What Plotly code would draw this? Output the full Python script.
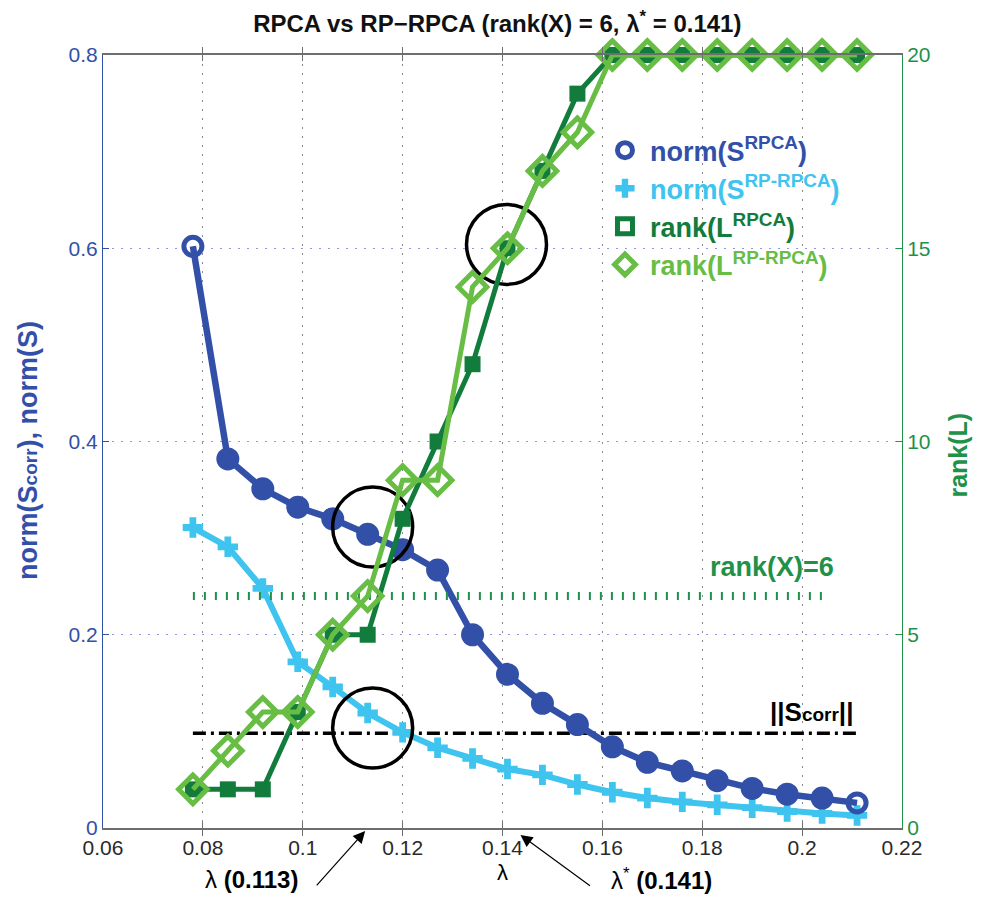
import plotly.graph_objects as go

# ---------------- data ----------------
lam = [0.078, 0.085, 0.092, 0.099, 0.106, 0.113, 0.120, 0.127, 0.134, 0.141,
       0.148, 0.155, 0.162, 0.169, 0.176, 0.183, 0.190, 0.197, 0.204, 0.211]
norm_s_rpca = [0.602, 0.382, 0.351, 0.332, 0.320, 0.304, 0.288, 0.267, 0.200, 0.159,
               0.129, 0.107, 0.084, 0.068, 0.059, 0.049, 0.041, 0.035, 0.031, 0.026]
norm_s_rprpca = [0.311, 0.291, 0.248, 0.172, 0.146, 0.119, 0.099, 0.083, 0.072, 0.061,
                 0.055, 0.045, 0.037, 0.031, 0.027, 0.024, 0.021, 0.017, 0.015, 0.013]
rank_l_rpca = [1, 1, 1, 3, 5, 5, 8, 10, 12, 15, 17, 19, 20, 20, 20, 20, 20, 20, 20, 20]
rank_l_rprpca = [1, 2, 3, 3, 5, 6, 9, 9, 14, 15, 17, 18, 20, 20, 20, 20, 20, 20, 20, 20]

rank_x = 6
rank_x_span = [0.078, 0.204]
s_corr = 0.098
s_corr_span = [0.078, 0.211]

lambda_marked = 0.1125
lambda_star = 0.1436

# highlight circles (x, left-axis y)
circle_x = [0.114, 0.114, 0.1408]
circle_y = [0.3116, 0.1035, 0.6040]

x_ticks = [0.06, 0.08, 0.10, 0.12, 0.14, 0.16, 0.18, 0.20, 0.22]
x_tick_labels = ["0.06", "0.08", "0.1", "0.12", "0.14", "0.16", "0.18", "0.2", "0.22"]
yl_ticks = [0, 0.2, 0.4, 0.6, 0.8]
yl_tick_labels = ["0", "0.2", "0.4", "0.6", "0.8"]
yr_ticks = [0, 5, 10, 15, 20]

# ---------------- styles ----------------
DARK_BLUE = "#3350a8"
LIGHT_BLUE = "#3ec4ee"
DARK_GREEN = "#117c3c"
LIGHT_GREEN = "#68bd45"
AX_GREEN = "#1f9148"
FONT = "Liberation Sans, Arial, sans-serif"

fig = go.Figure()

# reference lines
fig.add_trace(go.Scatter(x=rank_x_span, y=[rank_x, rank_x], yaxis="y2", mode="lines",
                         line=dict(color=AX_GREEN, width=8, dash="2px,9px"),
                         showlegend=False, hoverinfo="skip"))
fig.add_trace(go.Scatter(x=s_corr_span, y=[s_corr, s_corr], mode="lines",
                         line=dict(color="black", width=3.5, dash="13px,5px,3px,5px"),
                         showlegend=False, hoverinfo="skip"))

# series
fig.add_trace(go.Scatter(x=lam, y=norm_s_rprpca, mode="lines+markers",
                         line=dict(color=LIGHT_BLUE, width=6),
                         marker=dict(symbol="cross", size=17, color=LIGHT_BLUE),
                         showlegend=False, cliponaxis=False))
blue_symbols = ["circle-open"] + ["circle"] * (len(lam) - 2) + ["circle-open"]
fig.add_trace(go.Scatter(x=lam, y=norm_s_rpca, mode="lines+markers",
                         line=dict(color=DARK_BLUE, width=6.5),
                         marker=dict(symbol=blue_symbols, size=18, color=DARK_BLUE,
                                     line=dict(width=5, color=DARK_BLUE)),
                         showlegend=False, cliponaxis=False))
fig.add_trace(go.Scatter(x=lam, y=rank_l_rpca, yaxis="y2", mode="lines+markers",
                         line=dict(color=DARK_GREEN, width=5),
                         marker=dict(symbol="square", size=16, color=DARK_GREEN),
                         showlegend=False, cliponaxis=False))
fig.add_trace(go.Scatter(x=lam, y=rank_l_rprpca, yaxis="y2", mode="lines+markers",
                         line=dict(color=LIGHT_GREEN, width=5),
                         marker=dict(symbol="diamond-open", size=22, color=LIGHT_GREEN,
                                     line=dict(width=5, color=LIGHT_GREEN)),
                         showlegend=False, cliponaxis=False))

# circles
fig.add_trace(go.Scatter(x=circle_x, y=circle_y, mode="markers",
                         marker=dict(symbol="circle-open", size=80, color="black",
                                     line=dict(width=3.5, color="black")),
                         showlegend=False, hoverinfo="skip", cliponaxis=False))

# legend entries (marker-only)
def leg(name, color, marker):
    fig.add_trace(go.Scatter(x=[None], y=[None], mode="markers", marker=marker,
                             name=f"<span style='color:{color}'><b>{name}</b></span>"))

leg("norm(S<sup>RPCA</sup>)", DARK_BLUE,
    dict(symbol="circle-open", size=15, color=DARK_BLUE, line=dict(width=5, color=DARK_BLUE)))
leg("norm(S<sup>RP-RPCA</sup>)", LIGHT_BLUE, dict(symbol="cross", size=18, color=LIGHT_BLUE))
leg("rank(L<sup>RPCA</sup>)", DARK_GREEN,
    dict(symbol="square-open", size=15, color=DARK_GREEN, line=dict(width=5, color=DARK_GREEN)))
leg("rank(L<sup>RP-RPCA</sup>)", LIGHT_GREEN,
    dict(symbol="diamond-open", size=20, color=LIGHT_GREEN, line=dict(width=5, color=LIGHT_GREEN)))

def ann(text, x, y, xref, yref, size, color, angle=0):
    return dict(text=text, x=x, y=y, xref=xref, yref=yref, showarrow=False,
                xanchor="center", yanchor="middle", textangle=angle,
                font=dict(size=size, color=color, family=FONT))

annotations = [
    ann("<b>rank(X)=6</b>", 0.194, 6.75, "x", "y2", 27, AX_GREEN),
    ann("<b>||S<span style='font-size:19px'>corr</span>||</b>", 0.2018, 0.120, "x", "y", 26, "black"),
    # arrows (head just below the x axis)
    dict(x=lambda_marked, y=-0.004, xref="x", yref="paper", ax=-50, ay=56, text="&nbsp;",
         showarrow=True, arrowhead=2, arrowsize=2, arrowwidth=1.2, arrowcolor="black",
         font=dict(size=1)),
    dict(x=lambda_star, y=-0.009, xref="x", yref="paper", ax=71, ay=52, text="&nbsp;",
         showarrow=True, arrowhead=2, arrowsize=2, arrowwidth=1.2, arrowcolor="black",
         font=dict(size=1)),
    ann("λ <b>(0.113)</b>", 0.0898, -0.067, "x", "paper", 24, "black"),
    ann("λ<sup>*</sup> <b>(0.141)</b>", 0.1718, -0.066, "x", "paper", 24, "black"),
    ann("λ", 0.14, -0.057, "x", "paper", 22, "black"),
    # axis titles
    ann("<b>norm(S<span style='font-size:19px'>corr</span>), norm(S)</b>", -0.094, 0.489,
        "paper", "paper", 27, DARK_BLUE, -90),
    ann("<b>rank(L)</b>", 1.070, 0.483, "paper", "paper", 25, AX_GREEN, -90),
]

fig.update_layout(
    width=967, height=887,
    paper_bgcolor="white", plot_bgcolor="white",
    margin=dict(l=95, r=73, t=47, b=67),
    font=dict(family=FONT, size=21, color="black"),
    title=dict(text="<b>RPCA vs RP−RPCA (rank(X) = 6, λ<sup>*</sup> = 0.141)</b>",
               x=0.506, xanchor="center", y=0.982, yanchor="middle",
               font=dict(size=24, family=FONT, color="#111")),
    xaxis=dict(range=[0.06, 0.22], tickvals=x_ticks, ticktext=x_tick_labels,
               showgrid=True, gridcolor="#8a8a8a", griddash="2px,7px", gridwidth=1,
               showline=True, linecolor="#6e6e6e", linewidth=1.5, mirror="allticks",
               ticks="inside", ticklen=6, tickcolor="#6e6e6e",
               tickfont=dict(size=21, color="#2a2a2a"), zeroline=False),
    yaxis=dict(range=[0, 0.8], tickvals=yl_ticks, ticktext=yl_tick_labels,
               showgrid=True, gridcolor="#8c98e0", griddash="2px,7px", gridwidth=1,
               showline=True, linecolor=DARK_BLUE, linewidth=1, ticks="inside", ticklen=6,
               tickcolor=DARK_BLUE, tickfont=dict(size=21, color=DARK_BLUE), zeroline=False),
    yaxis2=dict(range=[0, 20], tickvals=yr_ticks, overlaying="y", side="right",
                showgrid=False, showline=True, linecolor=AX_GREEN, linewidth=1,
                ticks="inside", ticklen=6, tickcolor=AX_GREEN,
                tickfont=dict(size=21, color=AX_GREEN), zeroline=False),
    legend=dict(x=0.622, y=0.908, xanchor="left", yanchor="top", bgcolor="rgba(0,0,0,0)",
                font=dict(size=27, family=FONT), tracegroupgap=0, itemwidth=40),
    annotations=annotations,
)

fig.write_html("out.html")
